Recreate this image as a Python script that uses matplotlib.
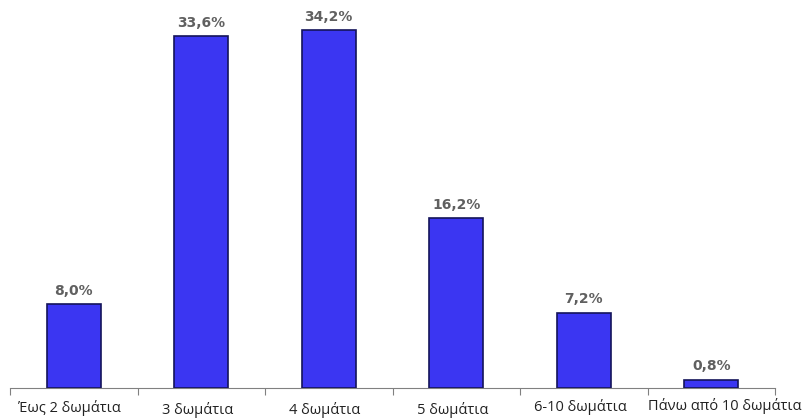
import numpy as np
import matplotlib
matplotlib.use('Agg')
import matplotlib.pyplot as plt

categories = ["Έως 2 δωμάτια", "3 δωμάτια", "4 δωμάτια", "5 δωμάτια", "6-10 δωμάτια", "Πάνω από 10 δωμάτια"]
values = [8.0, 33.6, 34.2, 16.2, 7.2, 0.8]
value_labels = ["8,0%", "33,6%", "34,2%", "16,2%", "7,2%", "0,8%"]

# small per-label nudges (px) to mimic the staggered category labels
label_dx = [-4, -4, -4, -4, -3, 13]
label_dy = [-12, -14, -14, -14, -11, -10]

fig = plt.figure(figsize=(8.02, 4.18), dpi=100)
ax = fig.add_axes([10/802, 30/418, 765/802, 388/418])

x = np.arange(len(categories))
ax.bar(x, values, width=0.42, color='#3b36f2', edgecolor='#14145a', linewidth=1.2, zorder=3)

for xi, v, lab in zip(x, values, value_labels):
    ax.text(xi, v + 0.6, lab, ha='center', va='bottom', fontsize=10,
            fontweight='bold', color='#606060', family='DejaVu Sans')

ax.set_xlim(-0.5, len(categories) - 0.5)
ax.set_ylim(0, 37.06)
for s in ['top', 'right', 'left']:
    ax.spines[s].set_visible(False)
ax.spines['bottom'].set_color('#808080')
ax.set_yticks([])

# ticks at category boundaries
ax.set_xticks(np.arange(-0.5, len(categories), 1.0))
ax.set_xticklabels([])
ax.tick_params(axis='x', length=5, color='#808080', direction='out')

for xi, cat, dx, dy in zip(x, categories, label_dx, label_dy):
    ax.annotate(cat, xy=(xi, 0), xycoords='data',
                xytext=(dx * 0.72, dy * 0.72), textcoords='offset points',
                ha='center', va='top', fontsize=10.5, family='Open Sans',
                color='#222222', annotation_clip=False)

plt.savefig('out.png', dpi=100)
plt.close()
